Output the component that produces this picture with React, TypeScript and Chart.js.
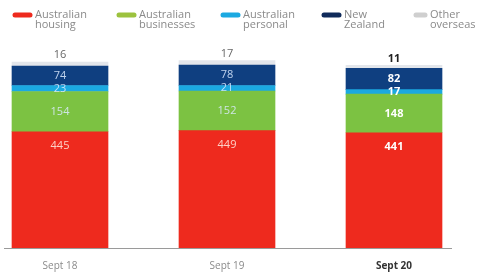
import React, { useEffect, useRef } from "react";
import { Chart, registerables } from "chart.js";

Chart.register(...registerables);

const categories = ["Sept 18", "Sept 19", "Sept 20"];
const seriesNames = [
  ["Australian", "housing"],
  ["Australian", "businesses"],
  ["Australian", "personal"],
  ["New", "Zealand"],
  ["Other", "overseas"],
];
const housing = [445, 449, 441];
const businesses = [154, 152, 148];
const personal = [23, 21, 17];
const newZealand = [74, 78, 82];
const otherOverseas = [16, 17, 11];

const colors = ["#ee2a1e", "#7cc242", "#1ba9e1", "#0f3f80", "#e3e6eb"];
const legendMarkerColors = ["#ee2a1e", "#9cc23e", "#1ba9e1", "#0f2a5a", "#cfcfcf"];
const FONT = "'Open Sans', 'Noto Sans', sans-serif";

export default function App() {
  const ref = useRef<HTMLCanvasElement | null>(null);

  useEffect(() => {
    if (!ref.current) return;
    const seriesData = [housing, businesses, personal, newZealand, otherOverseas];

    const legendPlugin = {
      id: "customLegend",
      afterDraw(chart: any) {
        const ctx = chart.ctx;
        const markerX = [13, 117, 221, 322, 414];
        const textX = [35, 139, 243, 344, 430];
        ctx.save();
        seriesNames.forEach((name, i) => {
          ctx.strokeStyle = legendMarkerColors[i];
          ctx.lineWidth = 5;
          ctx.lineCap = "round";
          ctx.beginPath();
          ctx.moveTo(markerX[i] + 2, 15);
          ctx.lineTo(textX[i] - 5, 15);
          ctx.stroke();
          ctx.fillStyle = "#8a8a8a";
          ctx.font = `11px ${FONT}`;
          ctx.textBaseline = "middle";
          ctx.textAlign = "left";
          ctx.fillText(name[0], textX[i], 15);
          ctx.fillText(name[1], textX[i], 25);
        });
        ctx.restore();
      },
    };

    const labelsPlugin = {
      id: "valueLabels",
      afterDatasetsDraw(chart: any) {
        const ctx = chart.ctx;
        ctx.save();
        ctx.textAlign = "center";
        ctx.textBaseline = "middle";
        chart.data.datasets.forEach((ds: any, di: number) => {
          const meta = chart.getDatasetMeta(di);
          meta.data.forEach((el: any, i: number) => {
            const bold = i === categories.length - 1;
            const v = ds.data[i];
            let y: number;
            let color: string;
            if (di === 0) {
              y = el.y + 14;
              color = bold ? "#ffffff" : "rgba(255,225,215,0.9)";
            } else if (di === 4) {
              y = el.y - 7;
              color = bold ? "#222222" : "#666666";
            } else {
              y = (el.y + el.base) / 2;
              color = bold ? "#ffffff" : "rgba(220,235,255,0.85)";
            }
            ctx.fillStyle = color;
            ctx.font = `${bold ? "bold " : ""}11px ${FONT}`;
            ctx.fillText(String(v), el.x, y);
          });
        });
        const area = chart.chartArea;
        ctx.strokeStyle = "#9a9a9a";
        ctx.lineWidth = 1;
        ctx.beginPath();
        ctx.moveTo(4, area.bottom + 0.5);
        ctx.lineTo(452, area.bottom + 0.5);
        ctx.stroke();
        const xScale = chart.scales.x;
        categories.forEach((c, i) => {
          const bold = i === categories.length - 1;
          ctx.fillStyle = bold ? "#333333" : "#8a8a8a";
          ctx.font = `${bold ? "bold " : ""}10px ${FONT}`;
          ctx.fillText(c, xScale.getPixelForValue(i), area.bottom + 18);
        });
        ctx.restore();
      },
    };

    const chart = new Chart(ref.current, {
      type: "bar",
      data: {
        labels: categories,
        datasets: seriesData.map((d, i) => ({
          label: seriesNames[i].join(" "),
          data: d,
          backgroundColor: colors[i],
          borderWidth: 0,
          barThickness: 96,
          clip: false as any,
        })),
      },
      options: {
        responsive: false,
        animation: false,
        layout: { padding: { left: 60, right: 97, top: 39, bottom: 30 } },
        plugins: {
          legend: { display: false },
          tooltip: { enabled: false },
        },
        scales: {
          x: { stacked: true, display: false, offset: false },
          y: { stacked: true, display: false, min: 0, max: 800 },
        },
      },
      plugins: [legendPlugin, labelsPlugin],
    });
    return () => chart.destroy();
  }, []);

  return (
    <div style={{ position: "absolute", left: 0, top: 0, width: 491, height: 278, background: "#fff" }}>
      <canvas ref={ref} width={491} height={278} style={{ display: "block" }} />
    </div>
  );
}
